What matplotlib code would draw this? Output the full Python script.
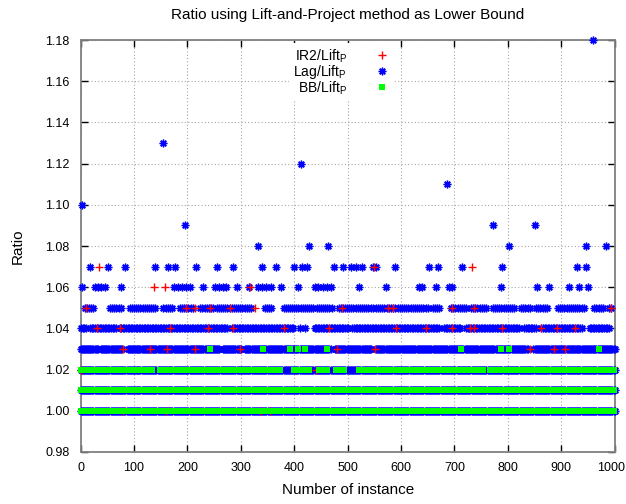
import matplotlib
matplotlib.use("Agg")
import matplotlib.pyplot as plt
import matplotlib.transforms as mtransforms
from matplotlib.lines import Line2D

# instance numbers, one list per ratio level
# IR2/Lift_P (red +), only the points that show
ir2_100 = [80, 160, 336, 355]
ir2_102 = [0, 440]
ir2_103 = [80, 130, 161, 214, 298, 481, 551, 841, 886, 907]
ir2_104 = [30, 74, 167, 239, 286, 380, 465, 591, 646, 696, 730, 736, 790, 862, 893, 926]
ir2_105 = [10, 197, 214, 242, 280, 327, 489, 576, 585, 696, 737, 993]
ir2_106 = [138, 158, 317]
ir2_107 = [35, 549, 733]

# Lag/Lift_P (blue *)
lag_100_runs = [[0, 1000]]
lag_101_runs = [[0, 1000]]
lag_102_runs = [[0, 1000]]
lag_103_runs = [[0, 32], [38, 79], [88, 260], [266, 300], [308, 468], [476, 545],
                [553, 838], [848, 1000]]
lag_104_runs = [[1, 11], [18, 67], [73, 275], [284, 308], [311, 398], [410, 410],
                [421, 421], [438, 503], [509, 672], [681, 712], [722, 822], [831, 853],
                [863, 940], [953, 990]]
lag_105_runs = [[8, 27], [55, 77], [92, 142], [155, 174], [186, 211], [224, 249],
                [255, 320], [345, 357], [380, 436], [442, 473], [483, 547], [553, 591],
                [594, 653], [659, 673], [694, 722], [731, 762], [772, 815], [825, 841],
                [853, 875], [894, 944], [962, 978], [990, 997]]
lag_106 = [2, 26, 32, 39, 46, 76, 174, 182, 190, 197, 204, 230, 252, 259, 266, 273, 292,
           316, 332, 340, 347, 357, 375, 408, 438, 444, 453, 461, 469, 521, 572, 634, 639,
           666, 690, 695, 788, 855, 877, 914, 934, 951]
lag_107 = [18, 52, 83, 139, 164, 177, 216, 256, 286, 339, 365, 399, 415, 423, 475, 491,
           506, 516, 526, 548, 553, 589, 652, 670, 715, 790, 930, 946]
lag_108 = [332, 428, 464, 802, 946, 983]
lag_109 = [195, 773, 850]
lag_110 = [2]
lag_111 = [686]
lag_112 = [412]
lag_113 = [154]
lag_118 = [960]

# BB/Lift_P (green squares)
bb_100_runs = [[0, 60], [68, 78], [84, 157], [164, 330], [340, 347], [356, 605],
               [613, 872], [879, 928], [932, 977], [986, 986], [995, 1000]]
bb_101_runs = [[0, 554], [558, 891], [895, 1000]]
bb_102_runs = [[0, 108], [117, 133], [148, 180], [192, 226], [236, 250], [256, 266],
               [272, 308], [318, 355], [364, 374], [400, 412], [414, 428], [447, 462],
               [479, 493], [522, 620], [630, 710], [717, 754], [766, 792], [801, 814],
               [823, 849], [857, 963], [973, 1000]]
bb_103 = [242, 342, 392, 407, 420, 462, 712, 788, 803, 970]


def expand(runs, step):
    xs = []
    for a, b in runs:
        xs.extend(range(a, b + 1, step))
    return xs


plt.rcParams['font.family'] = ['Liberation Sans', 'DejaVu Sans']
plt.rcParams['mathtext.fontset'] = 'custom'
plt.rcParams['mathtext.rm'] = 'Liberation Sans'

fig = plt.figure(figsize=(6.26, 5.04), dpi=100)
ax = fig.add_axes([0.1288, 0.1032, 0.853, 0.8174])

red, blue, green = '#ff0000', '#0000ff', '#00ff00'
star = (8, 2, 0)

lag = [(1.00, expand(lag_100_runs, 2)), (1.01, expand(lag_101_runs, 2)),
       (1.02, expand(lag_102_runs, 2)), (1.03, expand(lag_103_runs, 2)),
       (1.04, expand(lag_104_runs, 3)), (1.05, expand(lag_105_runs, 4)),
       (1.06, lag_106), (1.07, lag_107), (1.08, lag_108), (1.09, lag_109),
       (1.10, lag_110), (1.11, lag_111), (1.12, lag_112), (1.13, lag_113),
       (1.18, lag_118)]
for lev, xs in lag:
    ax.plot(xs, [lev] * len(xs), ls='none', marker=star, ms=5.5, mew=1.0,
            color=blue, clip_on=False, zorder=3)

ir2 = [(1.00, ir2_100), (1.02, ir2_102), (1.03, ir2_103), (1.04, ir2_104),
       (1.05, ir2_105), (1.06, ir2_106), (1.07, ir2_107)]
for lev, xs in ir2:
    ax.plot(xs, [lev] * len(xs), ls='none', marker='+', ms=6, mew=1.0,
            color=red, clip_on=False, zorder=4)

bb = [(1.00, expand(bb_100_runs, 2)), (1.01, expand(bb_101_runs, 2)),
      (1.02, expand(bb_102_runs, 2)), (1.03, bb_103)]
for lev, xs in bb:
    ax.plot(xs, [lev] * len(xs), ls='none', marker='s', ms=4.2, mew=0,
            color=green, clip_on=False, zorder=5)

ax.set_xlim(0, 1000)
ax.set_ylim(0.98, 1.18)
ax.set_xticks(range(0, 1001, 100))
ax.set_yticks([0.98 + 0.02 * i for i in range(11)])
ax.set_yticklabels(['%.2f' % (0.98 + 0.02 * i) for i in range(11)])
ax.tick_params(direction='in', top=True, right=True, length=5, width=1,
               labelsize=9, color='black')
ax.tick_params(axis='x', pad=7)
ax.tick_params(axis='y', pad=8)
ax.grid(True, color='#a8a8a8', linestyle=(0, (1, 2)), linewidth=0.8)
ax.set_axisbelow(True)
for s in ax.spines.values():
    s.set_color('#808080')
    s.set_linewidth(1.3)

# keep "1000" inside the picture
last = ax.get_xticklabels()[-1]
last.set_transform(last.get_transform() +
                   mtransforms.ScaledTranslation(-4 / 100, 0, fig.dpi_scale_trans))

fig.text(0.5555, 1 - 15 / 504, 'Ratio using Lift-and-Project method as Lower Bound',
         ha='center', va='center', fontsize=11)
fig.text(0.5555, 1 - 490 / 504, 'Number of instance', ha='center', va='center', fontsize=11)
fig.text(18 / 626, 1 - 246 / 504, 'Ratio', ha='center', va='center', rotation=90, fontsize=11)

handles = [Line2D([], [], ls='none', marker='+', ms=6, mew=1.0, color=red),
           Line2D([], [], ls='none', marker=star, ms=5.5, mew=1.0, color=blue),
           Line2D([], [], ls='none', marker='s', ms=4.2, mew=0, color=green)]
labels = [r'IR2/Lift$_\mathregular{P}$', r'Lag/Lift$_\mathregular{P}$',
          r'BB/Lift$_\mathregular{P}$']
leg = ax.legend(handles, labels, loc='upper center', bbox_to_anchor=(341 / 626, 1 - 36 / 504),
                bbox_transform=fig.transFigure, markerfirst=False, numpoints=1,
                fontsize=10, labelspacing=-0.12, handlelength=1.0, handletextpad=2.0,
                borderpad=0.3, frameon=True, fancybox=False, framealpha=1,
                facecolor='white', edgecolor='none')
leg.set_zorder(10)

fig.savefig('out.png', dpi=100)
